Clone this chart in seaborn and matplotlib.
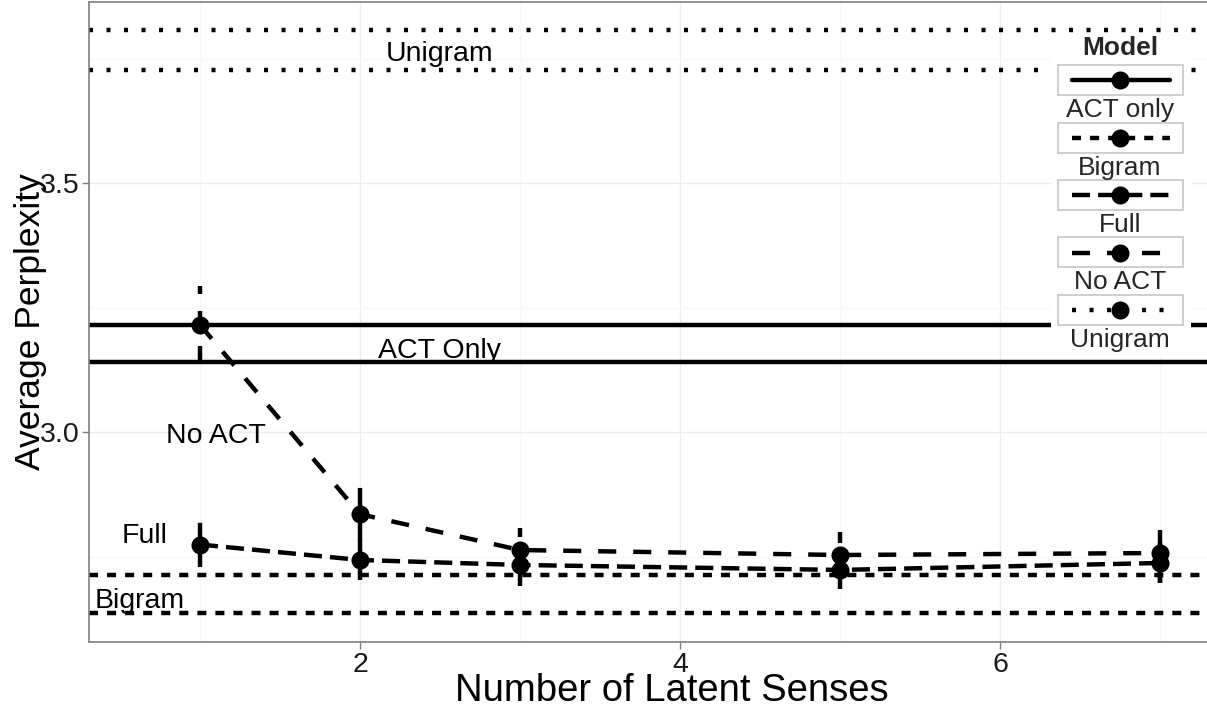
import numpy as np
import pandas as pd
import matplotlib
matplotlib.use("Agg")
import matplotlib.pyplot as plt
import seaborn as sns
from matplotlib.patches import Rectangle
from matplotlib.lines import Line2D

# ---------------- data ----------------
senses = [1, 2, 3, 5, 7]
noact_mean = [3.215, 2.835, 2.763, 2.753, 2.757]
noact_err = [0.078, 0.054, 0.044, 0.046, 0.060]
full_mean = [2.774, 2.743, 2.733, 2.723, 2.737]
full_err = [0.045, 0.040, 0.042, 0.038, 0.040]

unigram_bounds = [3.807, 3.726]
act_only_bounds = [3.215, 3.141]
bigram_bounds = [2.713, 2.637]

label_text = ["Unigram", "ACT Only", "No ACT", "Full", "Bigram"]
label_x = [2.5, 2.5, 1.1, 0.656, 0.62]
label_y = [3.744, 3.149, 2.978, 2.777, 2.647]

legend_models = ["ACT only", "Bigram", "Full", "No ACT", "Unigram"]

x_ticks = [2, 4, 6]
x_minor = [1, 3, 5, 7]
y_ticks = [3.0, 3.5]
y_minor = [2.75, 3.25, 3.75]

# ---------------- style ----------------
sns.set_theme(style="white")
plt.rcParams["font.family"] = ["Liberation Sans", "DejaVu Sans"]
plt.rcParams["lines.scale_dashes"] = False

LW = 3.2
MS = 13
styles = {
    "ACT only": "-",
    "Bigram": (0, (6.5, 6.5)),
    "Full": (0, (13, 5.8)),
    "No ACT": (0, (13, 12.2)),
    "Unigram": (0, (2.9, 9.7)),
}

W, H = 1207, 715
fig = plt.figure(figsize=(W / 100, H / 100), dpi=100)
AX_L, AX_R, AX_T, AX_B = 89, 1255, 2, 642
ax = fig.add_axes([AX_L / W, 1 - AX_B / H, (AX_R - AX_L) / W, (AX_B - AX_T) / H])

x0, x1 = (AX_L - 40) / 160, (AX_R - 40) / 160
y0 = 3.0 - (AX_B - 432) / 498
y1 = 3.0 + (432 - AX_T) / 498
ax.set_xlim(x0, x1)
ax.set_ylim(y0, y1)

# grid
ax.set_xticks(x_ticks)
ax.set_xticks(x_minor, minor=True)
ax.set_yticks(y_ticks)
ax.set_yticks(y_minor, minor=True)
ax.set_xticklabels([str(v) for v in x_ticks])
ax.set_yticklabels([f"{v:.1f}" for v in y_ticks])
ax.grid(which="major", color="#ededed", lw=1.0, zorder=0)
ax.grid(which="minor", color="#f7f7f7", lw=1.0, zorder=0)
ax.set_axisbelow(True)
ax.tick_params(which="major", length=5, width=1, color="#808080",
               labelsize=20.5, pad=2, labelcolor="#1a1a1a",
               bottom=True, left=True)
ax.tick_params(which="minor", length=0)
for s in ax.spines.values():
    s.set_color("#808080")
    s.set_linewidth(1.2)

# reference horizontal lines
for yv in unigram_bounds:
    ax.axhline(yv, color="black", lw=LW, linestyle=styles["Unigram"], zorder=2)
for yv in act_only_bounds:
    ax.axhline(yv, color="black", lw=LW, linestyle=styles["ACT only"], zorder=2)
for yv in bigram_bounds:
    ax.axhline(yv, color="black", lw=LW, linestyle=styles["Bigram"], zorder=2)

# text labels
for t, xv, yv in zip(label_text, label_x, label_y):
    ax.text(xv, yv, t, ha="center", va="baseline", fontsize=20.5, color="black", zorder=3)

# model series
df = pd.DataFrame({
    "senses": senses * 2,
    "perplexity": noact_mean + full_mean,
    "err": noact_err + full_err,
    "Model": ["No ACT"] * len(senses) + ["Full"] * len(senses),
})
for model in ["No ACT", "Full"]:
    sub = df[df["Model"] == model]
    ax.vlines(sub["senses"], sub["perplexity"] - sub["err"], sub["perplexity"] + sub["err"],
              colors="black", linewidth=LW, linestyles=[styles[model]], zorder=3)
    sns.lineplot(data=sub, x="senses", y="perplexity", ax=ax, color="black",
                 lw=LW, linestyle=styles[model], marker="o", markersize=MS,
                 markeredgewidth=0, zorder=4, legend=False)

ax.set_xlabel("Number of Latent Senses", fontsize=27.5, color="black")
ax.set_ylabel("Average Perplexity", fontsize=25.5, color="black")
ax.xaxis.set_label_coords(0.5, (AX_B - 691) / (AX_B - AX_T))
ax.xaxis.label.set_va("center")
ax.yaxis.set_label_coords((31 - AX_L) / (AX_R - AX_L), 0.5)
ax.yaxis.label.set_va("center")

# ---------------- manual legend (ggplot style) ----------------
def axc(px, py):
    return ((px - AX_L) / (AX_R - AX_L), (AX_B - py) / (AX_B - AX_T))

bx, by = axc(1051, 356)
bx2, by2 = axc(1191, 34)
ax.add_patch(Rectangle((bx, by), bx2 - bx, by2 - by, transform=ax.transAxes,
                       facecolor="white", edgecolor="none", zorder=10, clip_on=False))
tx, ty = axc(1120, 48)
ax.text(tx, ty, "Model", transform=ax.transAxes, ha="center", va="center",
        fontsize=19, fontweight="bold", zorder=11)
for i, m in enumerate(legend_models):
    top = 65 + i * 57.5
    rx, ry = axc(1058, top + 30)
    rx2, ry2 = axc(1183, top)
    ax.add_patch(Rectangle((rx, ry), rx2 - rx, ry2 - ry, transform=ax.transAxes,
                           facecolor="white", edgecolor="#cccccc", lw=1.3,
                           zorder=11, clip_on=False))
    lx1, ly = axc(1072, top + 15)
    lx2, _ = axc(1170, top + 15)
    ax.add_line(Line2D([lx1, lx2], [ly, ly], transform=ax.transAxes, color="black",
                       lw=LW, linestyle=styles[m], zorder=12, clip_on=False))
    mx, _ = axc(1120, top + 15)
    ax.add_line(Line2D([mx], [ly], transform=ax.transAxes, color="black", marker="o",
                       markersize=MS, markeredgewidth=0, linestyle="none",
                       zorder=13, clip_on=False))
    lbx, lby = axc(1120, top + 45)
    ax.text(lbx, lby, m, transform=ax.transAxes, ha="center", va="center",
            fontsize=19, zorder=12)

fig.savefig("out.png", dpi=100)
